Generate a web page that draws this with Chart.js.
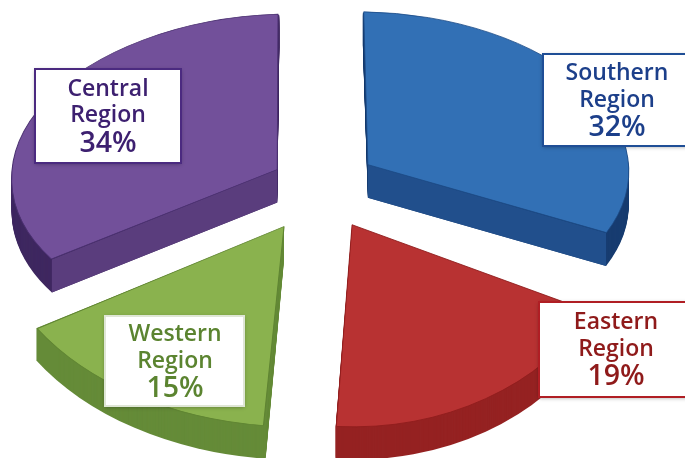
<!DOCTYPE html>
<html>
<head>
<meta charset="utf-8">
<title>Sales by region</title>
<script src="https://cdn.jsdelivr.net/npm/chart.js@4"></script>
<style>
  html, body { margin: 0; padding: 0; background: #fff; overflow: hidden; }
  canvas { display: block; }
</style>
</head>
<body>
<canvas id="chart" width="685" height="458"></canvas>
<script>
const regions = ["Southern", "Eastern", "Western", "Central"];
const shares = [32, 19, 15, 34];

const faceColors = ["#3270b5", "#b83232", "#8ab24e", "#72509a"];
const edgeColors = ["#1c4a86", "#8f1c1c", "#5f8432", "#4a3070"];
const wallColors = ["#214f8c", "#952222", "#658b38", "#5a3d7d"];
const rimColors = ["#173c70", "#952222", "#658b38", "#3f2860"];
const textColors = ["#1c3f8a", "#8f1a1a", "#5b8430", "#3d2070"];
const boxBorders = ["#1f4e96", "#b01e24", "#dfe6d6", "#4b2a80"];

// pull of each slice out of the pie (Chart.js draws offset / 4 px)
const sliceOffsets = [232, 252, 260, 196];
// fake perspective: each slice gets its own flattening
const scaleX = [0.99, 1, 1.086, 1];
const scaleY = [0.58, 0.77, 0.74, 0.585];
const skew = [0.033, 0, 0, -0.013];
const tilt = [0.014, 0, 0.028, -0.03];
const nudgeY = [0, 1, 4, 0];
const wallEdge = ["end", null, null, "start"];

const pieCenter = { x: 320, y: 182 };
const depth = 33;

const labelBoxes = [
  { x: 543, y: 54, w: 146, h: 92, cx: 617, lines: [73, 100, 128] },
  { x: 539, y: 302, w: 150, h: 95, cx: 616, lines: [322, 349, 377] },
  { x: 105, y: 316, w: 139, h: 90, cx: 175, lines: [334, 361, 389] },
  { x: 35, y: 69, w: 146, h: 94, cx: 108, lines: [89, 115, 144] },
];

function sliceGeom(arc, i) {
  const p = arc.getProps(["x", "y", "startAngle", "endAngle", "outerRadius", "circumference"], true);
  const off = sliceOffsets[i] / 4;
  const mid = (p.startAngle + p.endAngle) / 2;
  // ArcElement grows the radius with the offset, the side has to follow
  const grow = off * (1 - Math.sin(Math.min(Math.PI, p.circumference)));
  return { ...p, R: p.outerRadius + grow, ox: Math.cos(mid) * off, oy: Math.sin(mid) * off };
}

function placeSlice(ctx, arc, i, drop) {
  ctx.translate(pieCenter.x, pieCenter.y + nudgeY[i] + drop);
  ctx.transform(scaleX[i], tilt[i], skew[i] * scaleY[i], scaleY[i], 0, 0);
  ctx.translate(-arc.x, -arc.y);
}

function project(i, dx, dy) {
  return {
    x: pieCenter.x + scaleX[i] * dx + skew[i] * scaleY[i] * dy,
    y: pieCenter.y + nudgeY[i] + tilt[i] * dx + scaleY[i] * dy,
  };
}

const pie3d = {
  id: "pie3d",
  beforeDatasetsDraw(chart) {
    const ctx = chart.ctx;
    const arcs = chart.getDatasetMeta(0).data;
    arcs.forEach((arc, i) => {
      const g = sliceGeom(arc, i);
      const R = g.R;

      // stacked copies make the side of the slice
      ctx.fillStyle = rimColors[i];
      for (let d = depth; d > 0; d--) {
        ctx.save();
        placeSlice(ctx, arc, i, d);
        ctx.beginPath();
        ctx.moveTo(g.x + g.ox, g.y + g.oy);
        ctx.arc(g.x + g.ox, g.y + g.oy, R, g.startAngle, g.endAngle);
        ctx.closePath();
        ctx.fill();
        ctx.restore();
      }

      // flat cut face for the back slices
      if (wallEdge[i]) {
        const a = wallEdge[i] === "end" ? g.endAngle : g.startAngle;
        const p = project(i, g.ox, g.oy);
        const q = project(i, g.ox + Math.cos(a) * R, g.oy + Math.sin(a) * R);
        ctx.fillStyle = wallColors[i];
        ctx.beginPath();
        ctx.moveTo(p.x, p.y);
        ctx.lineTo(q.x, q.y);
        ctx.lineTo(q.x, q.y + depth);
        ctx.lineTo(p.x, p.y + depth);
        ctx.closePath();
        ctx.fill();
      }

      ctx.save();
      placeSlice(ctx, arc, i, 0);
      arc.draw(ctx);
      ctx.restore();
    });
    return false;
  },
  afterDraw(chart) {
    const ctx = chart.ctx;
    labelBoxes.forEach((box, i) => {
      ctx.save();
      ctx.shadowColor = "rgba(0,0,0,0.35)";
      ctx.shadowBlur = 4;
      ctx.shadowOffsetY = 1;
      ctx.fillStyle = "#fff";
      ctx.fillRect(box.x, box.y, box.w, box.h);
      ctx.restore();
      ctx.strokeStyle = boxBorders[i];
      ctx.lineWidth = 2;
      ctx.strokeRect(box.x, box.y, box.w, box.h);

      ctx.fillStyle = textColors[i];
      ctx.textAlign = "center";
      ctx.textBaseline = "middle";
      ctx.font = "600 23px 'Open Sans'";
      ctx.fillText(regions[i], box.cx, box.lines[0]);
      ctx.fillText("Region", box.cx, box.lines[1]);
      ctx.font = "600 28.5px 'Open Sans'";
      ctx.fillText(shares[i] + "%", box.cx, box.lines[2]);
    });
  },
};

new Chart(document.getElementById("chart"), {
  type: "pie",
  data: {
    labels: regions,
    datasets: [
      {
        data: shares,
        backgroundColor: faceColors,
        borderColor: edgeColors,
        borderWidth: 1,
        offset: sliceOffsets,
      },
    ],
  },
  options: {
    responsive: false,
    animation: false,
    radius: 258,
    plugins: {
      legend: { display: false },
      tooltip: { enabled: false },
    },
  },
  plugins: [pie3d],
});
</script>
</body>
</html>
